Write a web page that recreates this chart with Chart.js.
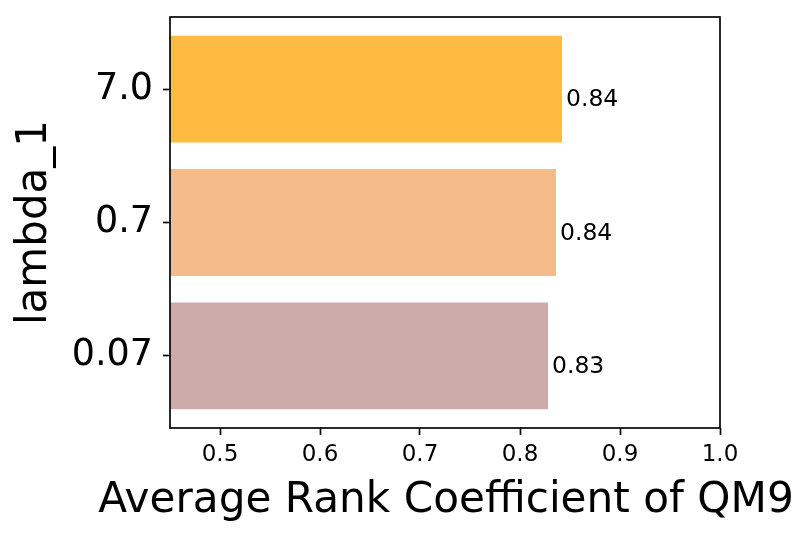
<!DOCTYPE html>
<html>
<head>
<meta charset="utf-8">
<script src="https://cdn.jsdelivr.net/npm/chart.js@4.4.1/dist/chart.umd.min.js"></script>
<style>
  body { margin: 0; background: #fff; }
  .chart { width: 809px; height: 538px; position: relative; }
</style>
</head>
<body>
<div class="chart">
  <canvas id="rankChart"></canvas>
</div>
<script>
// lambda_1 values, bottom to top
const lambdaLabels = ['0.07', '0.7', '7.0'];
const lambdaPositions = [0, 1, 2];
const rankValues = [0.828, 0.836, 0.842];
const barColors = ['rgb(204,170,170)', 'rgb(245,187,137)', 'rgb(254,187,66)'];
const xTickValues = [0.5, 0.6, 0.7, 0.8, 0.9, 1.0];
const xTitle = 'Average Rank Coefficient of QM9';

const FONT = 'DejaVu Sans';
const LW = 1.67;

// full box around the plot (matplotlib spines)
const boxPlugin = {
  id: 'box',
  afterDraw(chart) {
    const { ctx, chartArea: a } = chart;
    ctx.save();
    ctx.strokeStyle = '#000';
    ctx.lineWidth = LW;
    ctx.strokeRect(a.left, a.top, a.right - a.left, a.bottom - a.top);
    ctx.restore();
  }
};

// x title drawn by hand: chart.js squeezes a title wider than the plot
const xTitlePlugin = {
  id: 'xTitle',
  afterDraw(chart) {
    const { ctx, chartArea: a } = chart;
    ctx.save();
    ctx.font = '42.2px "' + FONT + '"';
    ctx.fillStyle = '#000';
    ctx.textAlign = 'center';
    ctx.textBaseline = 'alphabetic';
    ctx.fillText(xTitle, (a.left + a.right) / 2 + 1, 512);
    ctx.restore();
  }
};

// value text at the end of each bar
const valueLabels = {
  id: 'valueLabels',
  afterDatasetsDraw(chart) {
    const ctx = chart.ctx;
    const meta = chart.getDatasetMeta(0);
    ctx.save();
    ctx.font = '23.5px "' + FONT + '"';
    ctx.fillStyle = '#000';
    ctx.textAlign = 'left';
    ctx.textBaseline = 'alphabetic';
    meta.data.forEach((bar, i) => {
      ctx.fillText(rankValues[i].toFixed(2), bar.x + 4, bar.y + 17);
    });
    ctx.restore();
  }
};

const ctx = document.getElementById('rankChart');
new Chart(ctx, {
  type: 'bar',
  data: {
    datasets: [{
      data: rankValues.map((v, i) => ({ x: v, y: lambdaPositions[i] })),
      backgroundColor: barColors,
      borderWidth: 0,
      categoryPercentage: 1.0,
      barPercentage: 0.8
    }]
  },
  plugins: [boxPlugin, valueLabels, xTitlePlugin],
  options: {
    indexAxis: 'y',
    responsive: true,
    maintainAspectRatio: false,
    animation: false,
    layout: { padding: { left: 0, top: 17, right: 89, bottom: 0 } },
    plugins: {
      legend: { display: false },
      tooltip: { enabled: false }
    },
    scales: {
      x: {
        type: 'linear',
        min: 0.45,
        max: 1.0,
        afterBuildTicks: (scale) => { scale.ticks = xTickValues.map(v => ({ value: v })); },
        afterFit: (scale) => {
          scale.height = 110;
          scale.paddingLeft = 0;
          scale.paddingRight = 0;
        },
        ticks: {
          color: '#000',
          padding: 6,
          font: { family: FONT, size: 23 },
          callback: (v) => Number(v).toFixed(1)
        },
        grid: {
          display: true,
          drawOnChartArea: false,
          drawTicks: true,
          tickLength: 7,
          tickWidth: LW,
          tickColor: '#000'
        },
        border: { display: false },
        title: { display: false }
      },
      y: {
        type: 'linear',
        offset: false,
        min: -0.54,
        max: 2.54,
        afterBuildTicks: (scale) => { scale.ticks = lambdaPositions.map(v => ({ value: v })); },
        afterFit: (scale) => {
          scale.width = 170;
          scale.paddingTop = 0;
          scale.paddingBottom = 0;
        },
        ticks: {
          color: '#000',
          padding: 10,
          font: { family: FONT, size: 36.5 },
          callback: (v) => lambdaLabels[lambdaPositions.indexOf(v)]
        },
        grid: {
          display: true,
          offset: false,
          drawOnChartArea: false,
          drawTicks: true,
          tickLength: 7,
          tickWidth: LW,
          tickColor: '#000'
        },
        border: { display: false },
        title: {
          display: true,
          text: 'lambda_1',
          color: '#000',
          font: { family: FONT, size: 42, weight: 'normal' },
          padding: { top: 10, bottom: 0 }
        }
      }
    }
  }
});
</script>
</body>
</html>
